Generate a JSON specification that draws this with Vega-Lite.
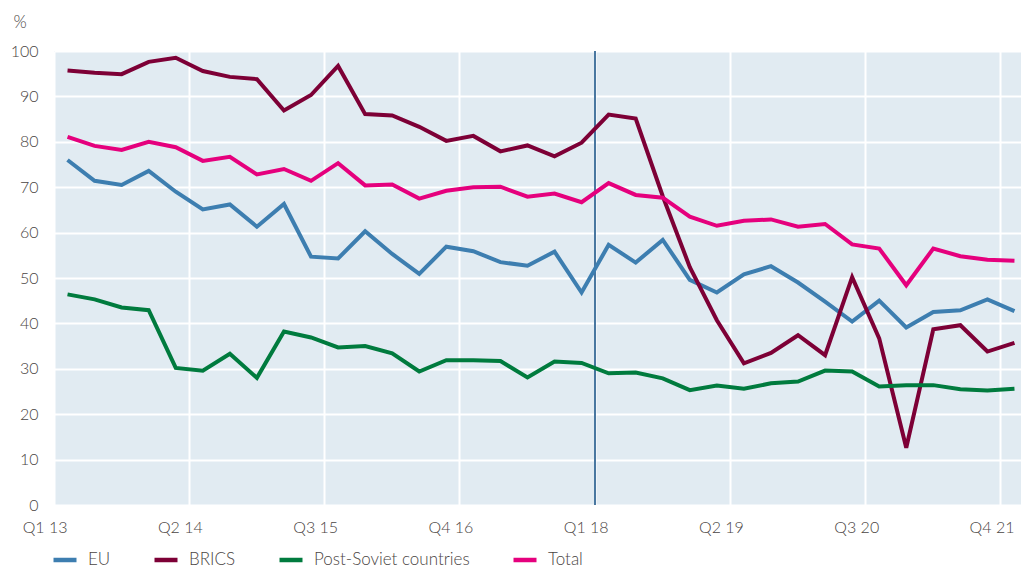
{
  "$schema": "https://vega.github.io/schema/vega-lite/v6.json",
  "autosize": {"type": "none"},
  "width": 967,
  "height": 454,
  "padding": {"left": 54, "top": 51, "right": 2, "bottom": 61},
  "background": "white",
  "config": {
    "font": "Lato",
    "view": {"fill": "#e1ebf2", "stroke": null},
    "axis": {"labelColor": "#4a4543", "labelFont": "Lato", "labelFontSize": 16, "labelFontWeight": 300, "ticks": false, "domain": false, "gridColor": "#ffffff", "gridWidth": 2, "gridOpacity": 1}
  },
  "data": {"values": [
    {"q":"Q1 13","EU":76.0,"BRICS":95.7,"Post-Soviet countries":46.4,"Total":81.1},
    {"q":"Q2 13","EU":71.4,"BRICS":95.2,"Post-Soviet countries":45.3,"Total":79.1},
    {"q":"Q3 13","EU":70.5,"BRICS":94.9,"Post-Soviet countries":43.5,"Total":78.2},
    {"q":"Q4 13","EU":73.6,"BRICS":97.6,"Post-Soviet countries":42.9,"Total":80.0},
    {"q":"Q1 14","EU":69.0,"BRICS":98.5,"Post-Soviet countries":30.2,"Total":78.8},
    {"q":"Q2 14","EU":65.1,"BRICS":95.6,"Post-Soviet countries":29.6,"Total":75.8},
    {"q":"Q3 14","EU":66.2,"BRICS":94.3,"Post-Soviet countries":33.3,"Total":76.7},
    {"q":"Q4 14","EU":61.3,"BRICS":93.8,"Post-Soviet countries":28.0,"Total":72.8},
    {"q":"Q1 15","EU":66.3,"BRICS":86.9,"Post-Soviet countries":38.2,"Total":74.0},
    {"q":"Q2 15","EU":54.7,"BRICS":90.3,"Post-Soviet countries":36.9,"Total":71.4},
    {"q":"Q3 15","EU":54.3,"BRICS":96.7,"Post-Soviet countries":34.7,"Total":75.3},
    {"q":"Q4 15","EU":60.3,"BRICS":86.1,"Post-Soviet countries":35.0,"Total":70.4},
    {"q":"Q1 16","EU":55.3,"BRICS":85.8,"Post-Soviet countries":33.4,"Total":70.6},
    {"q":"Q2 16","EU":50.9,"BRICS":83.3,"Post-Soviet countries":29.4,"Total":67.5},
    {"q":"Q3 16","EU":56.9,"BRICS":80.2,"Post-Soviet countries":31.9,"Total":69.2},
    {"q":"Q4 16","EU":55.9,"BRICS":81.3,"Post-Soviet countries":31.9,"Total":70.0},
    {"q":"Q1 17","EU":53.5,"BRICS":77.9,"Post-Soviet countries":31.7,"Total":70.1},
    {"q":"Q2 17","EU":52.7,"BRICS":79.2,"Post-Soviet countries":28.1,"Total":67.9},
    {"q":"Q3 17","EU":55.8,"BRICS":76.8,"Post-Soviet countries":31.6,"Total":68.6},
    {"q":"Q4 17","EU":46.8,"BRICS":79.8,"Post-Soviet countries":31.3,"Total":66.7},
    {"q":"Q1 18","EU":57.3,"BRICS":86.0,"Post-Soviet countries":29.0,"Total":70.9},
    {"q":"Q2 18","EU":53.4,"BRICS":85.1,"Post-Soviet countries":29.2,"Total":68.3},
    {"q":"Q3 18","EU":58.4,"BRICS":68.0,"Post-Soviet countries":27.9,"Total":67.7},
    {"q":"Q4 18","EU":49.6,"BRICS":52.4,"Post-Soviet countries":25.3,"Total":63.5},
    {"q":"Q1 19","EU":46.8,"BRICS":40.7,"Post-Soviet countries":26.3,"Total":61.5},
    {"q":"Q2 19","EU":50.8,"BRICS":31.2,"Post-Soviet countries":25.6,"Total":62.6},
    {"q":"Q3 19","EU":52.6,"BRICS":33.5,"Post-Soviet countries":26.8,"Total":62.9},
    {"q":"Q4 19","EU":49.0,"BRICS":37.4,"Post-Soviet countries":27.2,"Total":61.3},
    {"q":"Q1 20","EU":44.8,"BRICS":33.0,"Post-Soviet countries":29.6,"Total":61.9},
    {"q":"Q2 20","EU":40.4,"BRICS":50.2,"Post-Soviet countries":29.4,"Total":57.4},
    {"q":"Q3 20","EU":45.0,"BRICS":36.7,"Post-Soviet countries":26.1,"Total":56.5},
    {"q":"Q4 20","EU":39.1,"BRICS":12.6,"Post-Soviet countries":26.4,"Total":48.4},
    {"q":"Q1 21","EU":42.5,"BRICS":38.7,"Post-Soviet countries":26.4,"Total":56.5},
    {"q":"Q2 21","EU":42.9,"BRICS":39.6,"Post-Soviet countries":25.5,"Total":54.8},
    {"q":"Q3 21","EU":45.3,"BRICS":33.8,"Post-Soviet countries":25.2,"Total":54.0},
    {"q":"Q4 21","EU":42.7,"BRICS":35.7,"Post-Soviet countries":25.6,"Total":53.8}
  ]},
  "layer": [
    {
      "mark": {"type": "rule", "color": "#4a78a0", "strokeWidth": 1.3},
      "encoding": {
        "x": {"datum": "Q1 18", "type": "ordinal", "bandPosition": 0}
      }
    },
    {
      "transform": [{"fold": ["EU", "BRICS", "Post-Soviet countries", "Total"], "as": ["s", "v"]}],
      "mark": {"type": "line", "strokeWidth": 4, "strokeJoin": "miter"},
      "encoding": {
        "x": {
          "field": "q", "type": "ordinal", "sort": null,
          "scale": {"type": "band", "paddingInner": 0, "paddingOuter": 0, "range": [0, 974],
            "domain": ["Q1 13","Q2 13","Q3 13","Q4 13","Q1 14","Q2 14","Q3 14","Q4 14","Q1 15","Q2 15","Q3 15","Q4 15","Q1 16","Q2 16","Q3 16","Q4 16","Q1 17","Q2 17","Q3 17","Q4 17","Q1 18","Q2 18","Q3 18","Q4 18","Q1 19","Q2 19","Q3 19","Q4 19","Q1 20","Q2 20","Q3 20","Q4 20","Q1 21","Q2 21","Q3 21","Q4 21"]},
          "axis": {"values": ["Q1 13","Q2 14","Q3 15","Q4 16","Q1 18","Q2 19","Q3 20","Q4 21"], "bandPosition": 0, "grid": true, "labelAngle": 0, "labelPadding": 22, "title": null, "labelOverlap": false}
        },
        "y": {
          "field": "v", "type": "quantitative",
          "scale": {"domain": [0, 100], "nice": false, "zero": true},
          "axis": {"values": [0,10,20,30,40,50,60,70,80,90,100], "grid": true, "labelPadding": 16, "title": "%", "titleAngle": 0, "titleAlign": "left", "titleBaseline": "alphabetic", "titleX": -41, "titleY": -24, "titleFont": "Lato", "titleFontSize": 17, "titleFontWeight": 300, "titleColor": "#4a4543"}
        },
        "color": {
          "field": "s", "type": "nominal",
          "scale": {"domain": ["EU", "BRICS", "Post-Soviet countries", "Total"], "range": ["#3d7eb0", "#7d0036", "#007b3e", "#e5007d"]},
          "legend": {"title": null, "orient": "none", "direction": "horizontal", "legendX": -3, "legendY": 495, "padding": 0, "symbolType": "stroke", "symbolStrokeWidth": 4.5, "symbolSize": 529, "labelFontSize": 17, "labelFontWeight": 300, "labelFont": "Lato", "labelColor": "#4a4543", "labelOffset": 9, "columnPadding": 34, "labelLimit": 300}
        }
      }
    }
  ]
}
